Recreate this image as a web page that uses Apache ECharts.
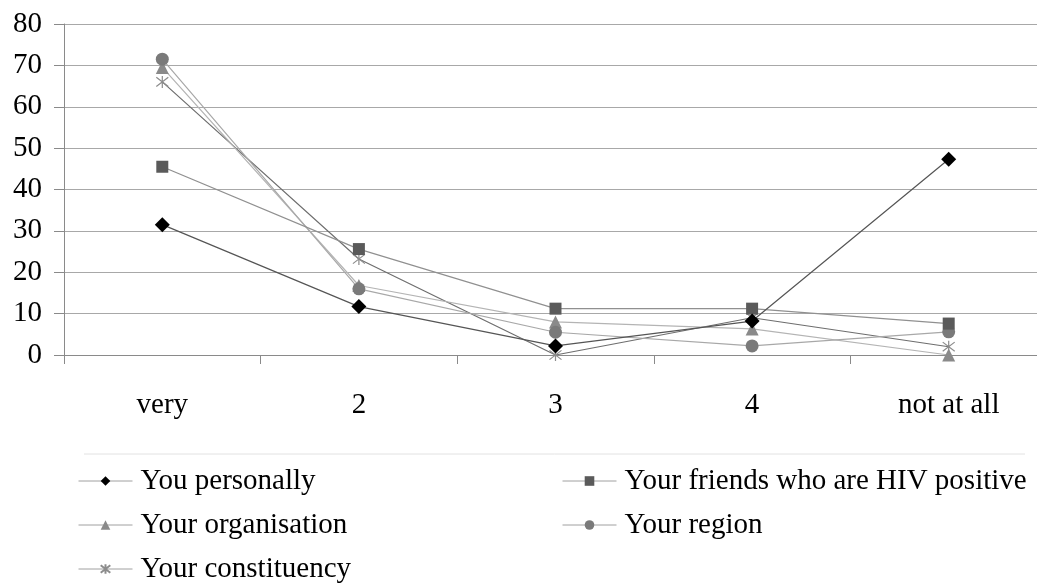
<!DOCTYPE html>
<html>
<head>
<meta charset="utf-8">
<script src="https://cdn.jsdelivr.net/npm/echarts@6/dist/echarts.min.js"></script>
<style>
  html, body { margin: 0; padding: 0; background: #fff; overflow: hidden; }
  /* the plot runs slightly past the right edge of the window */
  #chart { width: 1047px; height: 585px; }
</style>
</head>
<body>
<div id="chart"></div>
<script>
// Response categories along the x axis
const categories = ['very', '2', '3', '4', 'not at all'];

// Percentages per group
const youPersonally = [31.5, 11.7, 2.2, 8.2, 47.3];
const yourFriends = [45.5, 25.6, 11.2, 11.2, 7.6];
const yourOrganisation = [69.5, 16.8, 8.0, 6.3, 0];
const yourRegion = [71.5, 16.0, 5.5, 2.2, 5.6];
const yourConstituency = [66.0, 23.2, 0, 9.0, 2.0];

const yTicks = { min: 0, max: 80, step: 10 };

const serif = "'Liberation Serif', 'DejaVu Serif', 'Times New Roman', serif";
const starPath = 'path://M0,0L10,10M10,0L0,10M5,-1.5L5,11.5';

function lineSeries(name, data, symbol, size, markColor, lineColor, extra) {
  return Object.assign({
    name: name,
    type: 'line',
    data: data,
    symbol: symbol,
    symbolSize: size,
    showAllSymbol: true,
    animation: false,
    itemStyle: { color: markColor, borderColor: markColor, borderWidth: 0 },
    lineStyle: { color: lineColor, width: 1.2 },
    emphasis: { disabled: true }
  }, extra || {});
}

const legendText = { color: '#000', fontFamily: serif, fontSize: 29, lineHeight: 30, padding: [0, 0, 0, 3] };
const legendLine = { color: '#a0a0a0', width: 1 };

const chart = echarts.init(document.getElementById('chart'), null, { renderer: 'canvas' });

chart.setOption({
  backgroundColor: '#ffffff',
  animation: false,
  grid: { left: 64, top: 24, right: 0, height: 331, containLabel: false },
  xAxis: {
    type: 'category',
    data: categories,
    boundaryGap: true,
    axisLine: { lineStyle: { color: '#8a8a8a', width: 1 } },
    axisTick: { show: true, length: 9, lineStyle: { color: '#8a8a8a' } },
    axisLabel: { color: '#000', fontFamily: serif, fontSize: 29, margin: 36 },
    splitLine: { show: false }
  },
  yAxis: {
    type: 'value',
    min: yTicks.min,
    max: yTicks.max,
    interval: yTicks.step,
    axisLine: { show: true, lineStyle: { color: '#8a8a8a', width: 1 } },
    axisTick: { show: true, length: 10, lineStyle: { color: '#8a8a8a' } },
    axisLabel: { color: '#000', fontFamily: serif, fontSize: 29, margin: 22 },
    splitLine: { show: true, lineStyle: { color: '#a8a8a8', width: 1.2 } }
  },
  legend: [
    {
      orient: 'vertical',
      left: 78,
      top: 466,
      height: 140,
      padding: 0,
      itemWidth: 54,
      itemHeight: 12,
      itemGap: 14,
      selectedMode: false,
      data: ['You personally', 'Your organisation', 'Your constituency'],
      lineStyle: legendLine,
      textStyle: legendText
    },
    {
      orient: 'vertical',
      left: 562,
      top: 466,
      height: 140,
      padding: 0,
      itemWidth: 54,
      itemHeight: 12,
      itemGap: 14,
      selectedMode: false,
      data: ['Your friends who are HIV positive', 'Your region'],
      lineStyle: legendLine,
      textStyle: legendText
    }
  ],
  graphic: [
    {
      type: 'line',
      shape: { x1: 84, y1: 454, x2: 1025, y2: 454 },
      style: { stroke: '#e2e2e2', lineWidth: 1 },
      silent: true
    }
  ],
  series: [
    lineSeries('Your constituency', yourConstituency, starPath, 12, '#8c8c8c', '#6e6e6e', {
      itemStyle: { color: 'none', borderColor: '#8c8c8c', borderWidth: 1.2 }
    }),
    lineSeries('Your organisation', yourOrganisation, 'triangle', 13, '#8a8a8a', '#b4b4b4'),
    lineSeries('Your region', yourRegion, 'circle', 13, '#7a7a7a', '#a8a8a8'),
    lineSeries('Your friends who are HIV positive', yourFriends, 'rect', 12, '#5a5a5a', '#909090'),
    lineSeries('You personally', youPersonally, 'diamond', 15, '#000000', '#555555')
  ]
});
</script>
</body>
</html>
